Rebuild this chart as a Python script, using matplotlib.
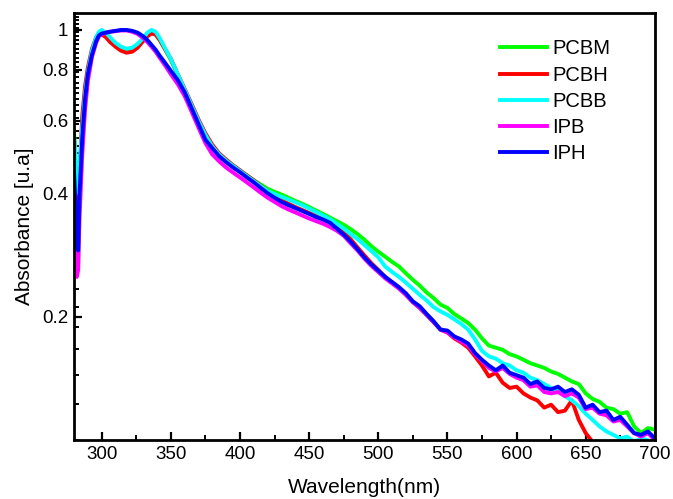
import numpy as np
import matplotlib
matplotlib.use('Agg')
import matplotlib.pyplot as plt
from matplotlib.ticker import FixedLocator, FixedFormatter, MultipleLocator

plt.rcParams['font.family'] = ['Liberation Sans', 'DejaVu Sans']

# wavelength grid (nm), shared by all spectra
wavelength = [280, 281, 282, 283, 284, 286, 288, 290, 293, 296, 298, 300, 303, 306, 310,
              314, 318, 322, 326, 330, 333, 336, 339, 342, 346] + list(range(350, 701, 5))

pcbm = [0.57, 0.48, 0.32, 0.27, 0.42, 0.58, 0.70, 0.79, 0.88, 0.95, 0.975, 0.98, 0.965, 0.94, 0.915,
        0.895, 0.885, 0.89, 0.91, 0.945, 0.97, 0.985, 0.975, 0.945, 0.895,
        0.845, 0.775, 0.712, 0.655, 0.600, 0.555, 0.520, 0.497, 0.480, 0.466,
        0.454, 0.442, 0.430, 0.420, 0.410, 0.403, 0.397, 0.390, 0.383, 0.377,
        0.370, 0.363, 0.356, 0.349, 0.342, 0.335, 0.327, 0.318, 0.308, 0.297,
        0.288, 0.280, 0.272, 0.265, 0.255, 0.246, 0.238, 0.229, 0.222, 0.214,
        0.210, 0.203, 0.198, 0.193, 0.186, 0.177, 0.170, 0.168, 0.166, 0.162,
        0.160, 0.157, 0.154, 0.152, 0.150, 0.147, 0.145, 0.142, 0.139, 0.137,
        0.130, 0.126, 0.124, 0.120, 0.119, 0.116, 0.117, 0.108, 0.104, 0.107, 0.106]

pcbh = [0.55, 0.45, 0.33, 0.30, 0.45, 0.62, 0.73, 0.81, 0.90, 0.96, 0.98, 0.975, 0.96, 0.935, 0.91,
        0.89, 0.88, 0.885, 0.905, 0.94, 0.965, 0.98, 0.975, 0.945, 0.895,
        0.850, 0.780, 0.718, 0.660, 0.605, 0.560, 0.525, 0.500, 0.483, 0.468,
        0.455, 0.442, 0.430, 0.417, 0.405, 0.395, 0.385, 0.377, 0.370, 0.364,
        0.358, 0.352, 0.347, 0.341, 0.333, 0.323, 0.309, 0.295, 0.282, 0.270,
        0.260, 0.250, 0.242, 0.235, 0.226, 0.217, 0.210, 0.202, 0.194, 0.186,
        0.183, 0.177, 0.173, 0.168, 0.160, 0.152, 0.143, 0.146, 0.138, 0.134,
        0.135, 0.130, 0.127, 0.125, 0.120, 0.122, 0.117, 0.118, 0.125, 0.112,
        0.104, 0.099, 0.096, 0.094, 0.092, 0.090, 0.090, 0.088, 0.087, 0.087, 0.086]

pcbb = [0.55, 0.50, 0.42, 0.40, 0.47, 0.58, 0.70, 0.79, 0.89, 0.96, 0.99, 1.0, 0.985, 0.96, 0.93,
        0.91, 0.90, 0.905, 0.925, 0.955, 0.985, 1.0, 0.99, 0.955, 0.90,
        0.850, 0.780, 0.715, 0.655, 0.600, 0.555, 0.520, 0.497, 0.480, 0.466,
        0.453, 0.440, 0.428, 0.416, 0.405, 0.398, 0.392, 0.386, 0.380, 0.374,
        0.367, 0.360, 0.353, 0.346, 0.337, 0.328, 0.318, 0.309, 0.299, 0.289,
        0.279, 0.265, 0.257, 0.250, 0.242, 0.234, 0.226, 0.219, 0.211, 0.206,
        0.202, 0.197, 0.192, 0.186, 0.176, 0.165, 0.160, 0.158, 0.154, 0.152,
        0.148, 0.146, 0.142, 0.140, 0.137, 0.134, 0.132, 0.128, 0.125, 0.121,
        0.116, 0.112, 0.108, 0.105, 0.103, 0.101, 0.102, 0.099, 0.101, 0.100, 0.098]

ipb = [0.30, 0.28, 0.25, 0.26, 0.35, 0.50, 0.64, 0.75, 0.86, 0.93, 0.965, 0.975, 0.985, 0.99, 0.993,
       0.997, 0.997, 0.99, 0.978, 0.955, 0.935, 0.91, 0.885, 0.855, 0.818,
       0.780, 0.738, 0.690, 0.632, 0.578, 0.530, 0.497, 0.478, 0.462, 0.449,
       0.437, 0.425, 0.413, 0.401, 0.390, 0.381, 0.372, 0.365, 0.359, 0.353,
       0.347, 0.342, 0.337, 0.331, 0.324, 0.315, 0.302, 0.290, 0.277, 0.266,
       0.257, 0.248, 0.241, 0.234, 0.226, 0.217, 0.210, 0.202, 0.194, 0.186,
       0.183, 0.178, 0.174, 0.170, 0.162, 0.156, 0.150, 0.147, 0.150, 0.145,
       0.142, 0.140, 0.135, 0.136, 0.131, 0.130, 0.131, 0.128, 0.130, 0.127,
       0.119, 0.120, 0.116, 0.115, 0.111, 0.112, 0.108, 0.104, 0.102, 0.104, 0.100]

iph = [0.45, 0.38, 0.30, 0.29, 0.40, 0.55, 0.68, 0.78, 0.87, 0.94, 0.97, 0.98, 0.985, 0.99, 0.995,
       1.0, 1.0, 0.995, 0.985, 0.965, 0.945, 0.92, 0.895, 0.865, 0.83,
       0.795, 0.755, 0.705, 0.645, 0.590, 0.540, 0.515, 0.492, 0.476, 0.462,
       0.450, 0.437, 0.425, 0.412, 0.400, 0.390, 0.381, 0.374, 0.368, 0.362,
       0.356, 0.350, 0.345, 0.339, 0.328, 0.317, 0.305, 0.292, 0.279, 0.268,
       0.259, 0.250, 0.243, 0.236, 0.228, 0.218, 0.212, 0.203, 0.195, 0.186,
       0.185, 0.179, 0.176, 0.172, 0.163, 0.157, 0.152, 0.148, 0.152, 0.146,
       0.144, 0.142, 0.137, 0.139, 0.134, 0.133, 0.135, 0.131, 0.133, 0.129,
       0.120, 0.122, 0.117, 0.118, 0.112, 0.114, 0.109, 0.104, 0.103, 0.105, 0.101]

series = [('PCBM', pcbm, '#00ff00'), ('PCBH', pcbh, '#ff0000'), ('PCBB', pcbb, '#00ffff'),
          ('IPB', ipb, '#ff00ff'), ('IPH', iph, '#0000ff')]

fig = plt.figure(figsize=(6.73, 4.99), dpi=100)
ax = fig.add_axes([0.110, 0.118, 0.863, 0.856])

for name, vals, col in series:
    ax.plot(wavelength, vals, color=col, lw=2.8, label=name)

ax.set_yscale('log')
ax.set_xlim(280, 700)
ax.set_ylim(0.1, 1.1)

ax.xaxis.set_major_locator(MultipleLocator(50))
ax.xaxis.set_minor_locator(MultipleLocator(25))
ax.yaxis.set_major_locator(FixedLocator([0.2, 0.4, 0.6, 0.8, 1.0]))
ax.yaxis.set_major_formatter(FixedFormatter(['0.2', '0.4', '0.6', '0.8', '1']))
ax.yaxis.set_minor_locator(FixedLocator(np.arange(0.1, 1.1, 0.2 / 9)))
ax.yaxis.set_minor_formatter(FixedFormatter([]))

ax.tick_params(which='major', direction='in', length=6, width=1.6, labelsize=13.5, pad=4)
ax.tick_params(which='minor', direction='in', length=3.5, width=1.4)
for sp in ax.spines.values():
    sp.set_linewidth(2.0)

ax.set_xlabel('Wavelength(nm)', fontsize=15, labelpad=11)
ax.set_ylabel('Absorbance [u.a]', fontsize=15, labelpad=6)

ax.legend(loc='upper left', bbox_to_anchor=(0.72, 0.957), frameon=False, fontsize=14.5,
          handlelength=2.3, handletextpad=0.3, labelspacing=0.36, borderaxespad=0.0)

fig.savefig('out.png', dpi=100)
